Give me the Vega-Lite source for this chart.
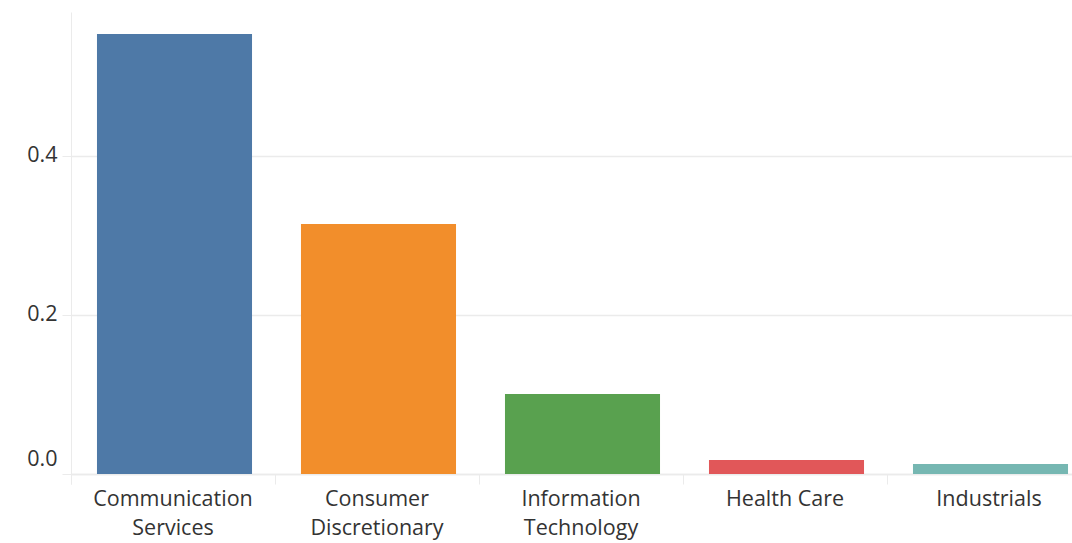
{
  "$schema": "https://vega.github.io/schema/vega-lite/v6.json",
  "autosize": "none",
  "padding": {"left": 71, "top": 12, "right": -19, "bottom": 69},
  "width": 1020,
  "height": 462,
  "background": "white",
  "data": {
    "values": [
      {"sector": "Communication Services", "value": 0.5535},
      {"sector": "Consumer Discretionary", "value": 0.3145},
      {"sector": "Information Technology", "value": 0.1006},
      {"sector": "Health Care", "value": 0.0176},
      {"sector": "Industrials", "value": 0.0126}
    ]
  },
  "config": {
    "view": {"stroke": null},
    "font": "Open Sans",
    "axis": {
      "labelFont": "Open Sans",
      "labelFontSize": 21.5,
      "labelColor": "#333333",
      "domainColor": "#ebebeb",
      "tickColor": "#ebebeb",
      "gridColor": "#ebebeb",
      "title": null
    }
  },
  "mark": {"type": "bar", "width": {"band": 0.76}, "xOffset": 1.5},
  "encoding": {
    "x": {
      "field": "sector",
      "type": "nominal",
      "sort": null,
      "scale": {"paddingInner": 0, "paddingOuter": 0},
      "axis": {
        "labelAngle": 0,
        "bandPosition": 0,
        "tickExtra": true,
        "tickSize": 10,
        "labelPadding": 4,
        "labelLineHeight": 29,
        "labelBaseline": "top",
        "labelExpr": "length(datum.label) > 12 ? split(datum.label, ' ') : datum.label",
        "grid": false,
        "domainWidth": 1.5
      }
    },
    "y": {
      "field": "value",
      "type": "quantitative",
      "scale": {"domain": [0, 0.5811], "nice": false, "zero": true},
      "axis": {
        "values": [0, 0.2, 0.4],
        "format": ".1f",
        "tickSize": 9,
        "labelPadding": 5,
        "labelFlush": true,
        "labelFlushOffset": -4,
        "grid": true,
        "gridWidth": 1.5
      }
    },
    "color": {
      "field": "sector",
      "type": "nominal",
      "sort": null,
      "scale": {"range": ["#4e79a7", "#f28e2b", "#59a14f", "#e15759", "#76b7b2"]},
      "legend": null
    }
  }
}
